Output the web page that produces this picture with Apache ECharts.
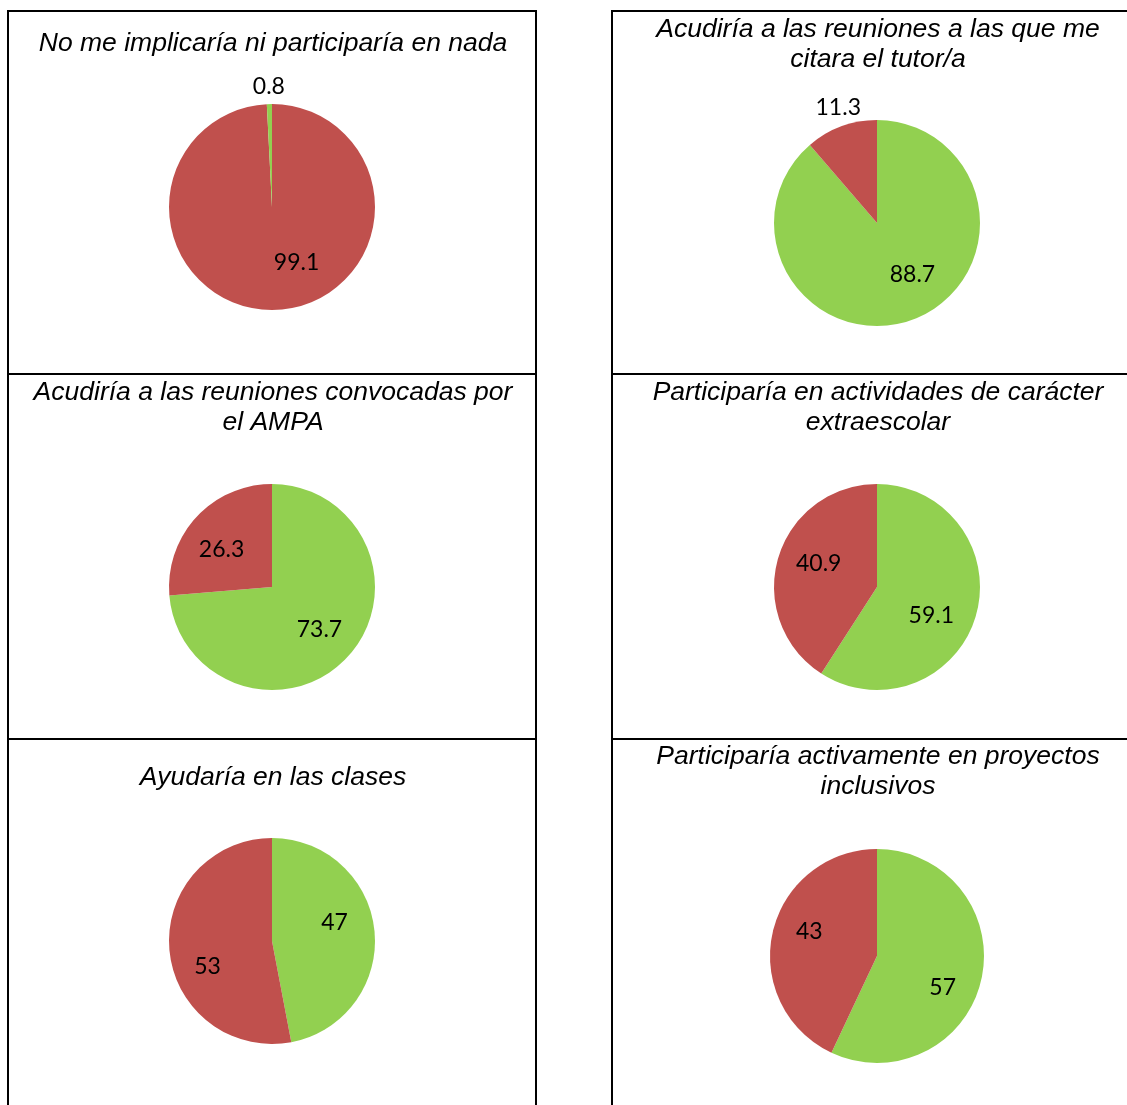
<!DOCTYPE html>
<html>
<head>
<meta charset="utf-8">
<script src="https://cdn.jsdelivr.net/npm/echarts@6/dist/echarts.min.js"></script>
<style>
  html, body { margin: 0; padding: 0; background: #ffffff; }
  #chart { width: 1127px; height: 1105px; }
</style>
</head>
<body>
<div id="chart"></div>
<script>
// Survey answers: share of families (%) answering yes (green) / no (red)
const questions = [
  'No me implicaría ni participaría en nada',
  'Acudiría a las reuniones a las que me\ncitara el tutor/a',
  'Acudiría a las reuniones convocadas por\nel AMPA',
  'Participaría en actividades de carácter\nextraescolar',
  'Ayudaría en las clases',
  'Participaría activamente en proyectos\ninclusivos'
];
const greenValues = [0.8, 88.7, 73.7, 59.1, 47, 57];
const redValues = [99.1, 11.3, 26.3, 40.9, 53, 43];

// Drawing setup
const GREEN = '#92D050';
const RED = '#C0504D';
const TITLE_FONT = "'Liberation Sans', Arial, Helvetica, sans-serif";
const redFirst = [true, false, false, false, false, false];
const pieCenters = [[272, 207], [877, 223], [272, 587], [877, 587], [272, 941], [877, 956]];
const pieRadii = [103, 103, 103, 103, 103, 107];
const titleX = [268, 873, 268, 873, 268, 873];
const titleTop = [24, 10, 373, 373, 758, 737];
// Small hand adjustments of the value labels, [green, red] per pie, in px
const labelNudge = [
  [[0, 3], [23, -6]],
  [[14, -6], [4, 0]],
  [[2, 1], [-5, 4]],
  [[-5, 11], [1, -6]],
  [[1, -13], [-3, 20]],
  [[3, 18], [-5, -10]]
];

const chart = echarts.init(document.getElementById('chart'), null, { renderer: 'canvas' });

function labelMover(idx) {
  // Re-place the inside label along its bisector: outside the rim for thin
  // slices, a bit beyond half the radius for the others.
  return function (params) {
    const c = pieCenters[idx];
    const r = pieRadii[idx];
    const lr = params.labelRect;
    const lx = lr.x + lr.width / 2;
    const ly = lr.y + lr.height / 2;
    const vx = lx - c[0];
    const vy = ly - c[1];
    const len = Math.sqrt(vx * vx + vy * vy) || 1;
    const total = greenValues[idx] + redValues[idx];
    const item = option.series[idx].data[params.dataIndex];
    const d = (item.value / total < 0.15) ? r + 20 : r * 0.6;
    const nudge = labelNudge[idx][item.name === 'Sí' ? 0 : 1];
    return {
      dx: c[0] + vx / len * d - lx + nudge[0],
      dy: c[1] + vy / len * d - ly + nudge[1]
    };
  };
}

const series = questions.map(function (q, i) {
  const g = { name: 'Sí', value: greenValues[i], itemStyle: { color: GREEN } };
  const rd = { name: 'No', value: redValues[i], itemStyle: { color: RED } };
  return {
    type: 'pie',
    center: pieCenters[i],
    radius: [0, pieRadii[i]],
    startAngle: 90,
    clockwise: true,
    avoidLabelOverlap: false,
    silent: true,
    itemStyle: { borderWidth: 0 },
    label: {
      show: true,
      position: 'inside',
      formatter: function (p) { return String(p.value); },
      color: '#000000',
      fontFamily: 'Lato',
      fontSize: 23
    },
    labelLine: { show: false },
    emphasis: { disabled: true },
    data: redFirst[i] ? [rd, g] : [g, rd]
  };
});

const titles = questions.map(function (q, i) {
  return {
    text: q,
    left: titleX[i],
    top: titleTop[i],
    textAlign: 'center',
    textStyle: {
      fontFamily: TITLE_FONT,
      fontStyle: 'italic',
      fontWeight: 'normal',
      fontSize: 26.5,
      lineHeight: 30,
      color: '#000000'
    }
  };
});

// Cell borders of the two columns
const boxLines = [
  [8, 10, 8, 1105], [536, 10, 536, 1105], [612, 10, 612, 1105],
  [7, 11, 537, 11], [7, 374, 537, 374], [7, 739, 537, 739],
  [611, 11, 1127, 11], [611, 374, 1127, 374], [611, 739, 1127, 739]
];
const graphic = boxLines.map(function (l) {
  return {
    type: 'line',
    shape: { x1: l[0], y1: l[1], x2: l[2], y2: l[3] },
    style: { stroke: '#000000', lineWidth: 2 },
    silent: true
  };
});

var option = {
  backgroundColor: '#ffffff',
  animation: false,
  title: titles,
  graphic: graphic,
  series: series
};
series.forEach(function (s, i) { s.labelLayout = labelMover(i); });

chart.setOption(option);
</script>
</body>
</html>
